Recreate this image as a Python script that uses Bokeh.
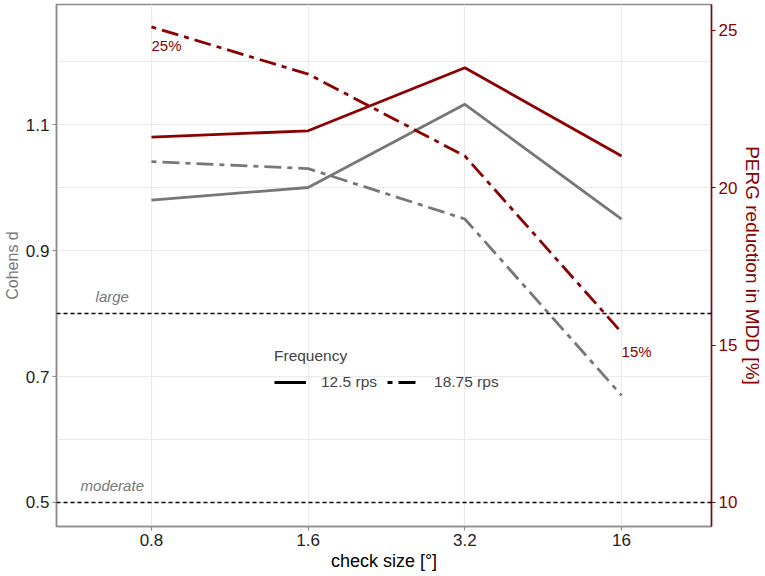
from bokeh.plotting import figure
from bokeh.models import Range1d, LinearAxis, FixedTicker, Legend, LegendItem, Span
from bokeh.embed import file_html
from bokeh.resources import INLINE
from bokeh.core.properties import value

# ---- data ----
check_sizes = ["0.8", "1.6", "3.2", "16"]
d_12_5 = [0.98, 1.00, 1.132, 0.95]
d_18_75 = [1.041, 1.03, 0.95, 0.67]
perg_12_5 = [21.6, 21.8, 23.8, 21.0]
perg_18_75 = [25.1, 23.6, 21.0, 15.4]
perg_labels = ["25%", "15%"]
effect_thresholds = [0.8, 0.5]
effect_labels = ["large", "moderate"]
freq_labels = ["12.5 rps", "18.75 rps"]
cohens_ticks = [0.5, 0.7, 0.9, 1.1]
cohens_minor = [0.6, 0.8, 1.0, 1.2]
perg_ticks = [10, 15, 20, 25]
perg_per_d = 20.0          # secondary axis: PERG % = 20 * d

FONT = "Liberation Sans"
GREY = "#777777"
RED = "#8B0000"
GRID = "#EBEBEB"
TICKTXT = "#222222"

xs = list(range(1, len(check_sizes) + 1))
y_lo, y_hi = 0.4619, 1.2905

p = figure(frame_width=655, frame_height=522,
           x_range=Range1d(0.394, 4.574), y_range=Range1d(y_lo, y_hi),
           output_backend="svg", toolbar_location=None,
           min_border_left=49, min_border_right=45,
           min_border_top=4, min_border_bottom=46)
p.extra_y_ranges = {"perg": Range1d(y_lo * perg_per_d, y_hi * perg_per_d)}

p.outline_line_color = "#8C8C8C"
p.outline_line_width = 1.5
p.background_fill_color = "white"
p.border_fill_color = "white"

# grids
p.xgrid.ticker = FixedTicker(ticks=xs)
p.xgrid.grid_line_color = GRID
p.xgrid.grid_line_width = 1.2
p.ygrid.ticker = FixedTicker(ticks=cohens_ticks, minor_ticks=cohens_minor)
p.ygrid.grid_line_color = GRID
p.ygrid.grid_line_width = 1.2
p.ygrid.minor_grid_line_color = GRID
p.ygrid.minor_grid_line_width = 1.0

# x axis
xa = p.xaxis[0]
xa.ticker = FixedTicker(ticks=xs)
xa.major_label_overrides = {x: lab for x, lab in zip(xs, check_sizes)}
xa.axis_label = "check size [°]"
# left axis
ya = p.yaxis[0]
ya.ticker = FixedTicker(ticks=cohens_ticks, minor_ticks=[])
ya.axis_label = "Cohens d"

for ax in (xa, ya):
    ax.axis_line_color = "#8C8C8C"
    ax.axis_line_width = 1.5
    ax.major_tick_line_color = "#8C8C8C"
    ax.major_tick_line_width = 1.2
    ax.major_tick_out = 4
    ax.major_tick_in = 0
    ax.minor_tick_line_color = None
    ax.major_label_text_font = FONT
    ax.major_label_text_font_size = "17px"
    ax.major_label_text_color = TICKTXT
    ax.major_label_standoff = 3
    ax.axis_label_text_font = FONT
    ax.axis_label_text_font_style = "normal"
    ax.axis_label_standoff = 2

xa.axis_label_text_font_size = "18px"
xa.axis_label_text_color = "black"
ya.axis_label_text_font_size = "16px"
ya.axis_label_text_color = GREY

# right axis
ra = LinearAxis(y_range_name="perg", ticker=FixedTicker(ticks=perg_ticks, minor_ticks=[]),
                axis_label="PERG reduction in MDD [%]")
ra.axis_line_color = RED
ra.axis_line_width = 1.5
ra.major_tick_line_color = RED
ra.major_tick_line_width = 1.2
ra.major_tick_out = 4
ra.major_tick_in = 0
ra.minor_tick_line_color = None
ra.major_label_text_font = FONT
ra.major_label_text_font_size = "17px"
ra.major_label_text_color = RED
ra.major_label_standoff = 3
ra.axis_label_text_font = FONT
ra.axis_label_text_font_style = "normal"
ra.axis_label_text_font_size = "19px"
ra.axis_label_text_color = RED
ra.axis_label_standoff = 2
p.add_layout(ra, "right")

# effect-size thresholds
for t in effect_thresholds:
    p.add_layout(Span(location=t, dimension="width", line_color="black",
                      line_width=1.3, line_dash="4 3"))
p.text(x=[0.75] * len(effect_labels), y=effect_thresholds, text=effect_labels,
       text_align="center", text_baseline="middle", y_offset=-17,
       text_color=GREY, text_font=value(FONT), text_font_size="15px",
       text_font_style="italic")

DASHDOT = "5 6 17 6"
LW = 2.8
p.line(xs, d_12_5, line_color=GREY, line_width=LW)
p.line(xs, d_18_75, line_color=GREY, line_width=LW, line_dash=DASHDOT)
p.line(xs, perg_12_5, y_range_name="perg", line_color=RED, line_width=LW)
p.line(xs, perg_18_75, y_range_name="perg", line_color=RED, line_width=LW, line_dash=DASHDOT)

p.text(x=[xs[0], xs[-1]], y=[perg_18_75[0], perg_18_75[-1]], text=perg_labels,
       y_range_name="perg", text_align="left", text_baseline="middle", y_offset=19,
       text_color=RED, text_font=value(FONT), text_font_size="15px")

# legend (black keys; proxy renderers carry no visible points)
nan_y = [float("nan")] * len(xs)
k1 = p.line(x=xs, y=nan_y, line_color="black", line_width=LW)
k2 = p.line(x=xs, y=nan_y, line_color="black", line_width=LW, line_dash=DASHDOT)
legend = Legend(items=[LegendItem(label=freq_labels[0], renderers=[k1]),
                       LegendItem(label=freq_labels[1], renderers=[k2])],
                orientation="horizontal", title="Frequency",
                location=(218, 134))
legend.background_fill_alpha = 0
legend.border_line_color = None
legend.padding = 0
legend.margin = 0
legend.spacing = 10
legend.glyph_width = 32
legend.glyph_height = 20
legend.label_height = 20
legend.label_standoff = 15
legend.label_text_font = FONT
legend.label_text_font_size = "15.5px"
legend.title_text_font = FONT
legend.title_text_font_size = "15.5px"
legend.title_text_font_style = "normal"
legend.title_standoff = 7
p.add_layout(legend)

open("out.html", "w").write(file_html(p, INLINE))
